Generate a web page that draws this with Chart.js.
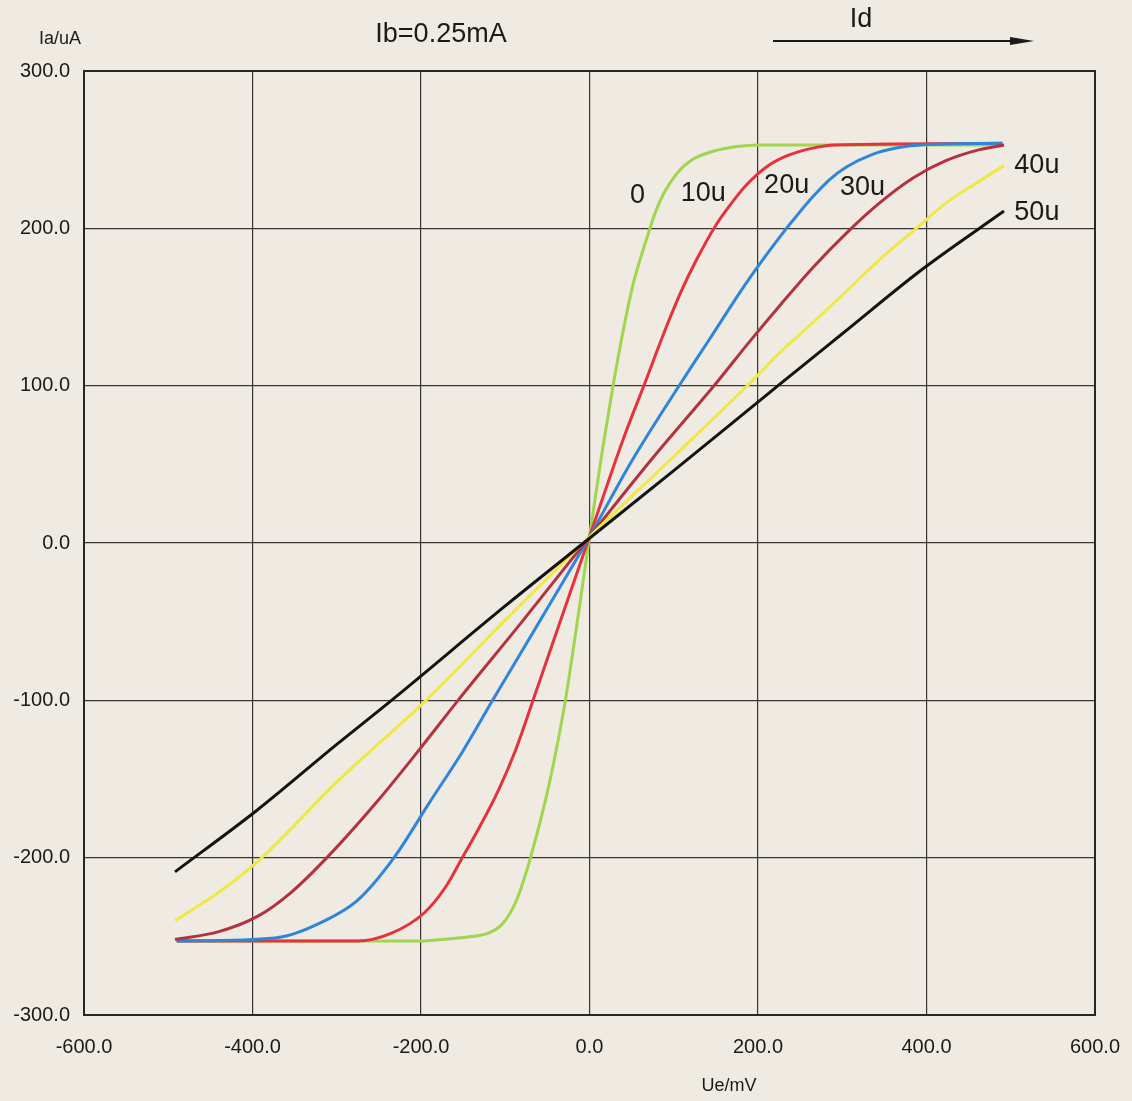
<!DOCTYPE html>
<html>
<head>
<meta charset="utf-8">
<script src="https://cdn.jsdelivr.net/npm/chart.js@4/dist/chart.umd.min.js"></script>
<style>
html,body{margin:0;padding:0;background:#efebe2;}
canvas{display:block;}
</style>
</head>
<body>
<canvas id="c" width="1132" height="1101"></canvas>
<script>
// Ue in mV (x) and Ia in uA (y) for each Id curve
const xTicks = [-600, -400, -200, 0, 200, 400, 600];
const yTicks = [-300, -200, -100, 0, 100, 200, 300];

const id0_x = [-490,-200,-176,-137,-120,-105,-95,-85,-75,-70,-52,-40,-28,-15,0,15,28,40,52,64,70,78,88,104,123,147,175,200,490];
const id0_y = [-253,-253,-252,-250,-248,-243,-236,-225,-209,-200,-163,-133,-98,-52,4,58,100,135,165,187,197,210,222,235,244,249,252,253,253];

const id10_x = [-490,-275,-235,-196,-170,-151,-130,-108,-88,-67,-40,0,40,66,88,108,127,150,170,187,210,234,265,290,490];
const id10_y = [-253,-253,-248,-235,-218,-200,-180,-157,-132,-100,-58,4,66,102,133,159,180,202,217,228,239,246,251,253,254];

const id20_x = [-490,-373,-314,-275,-232,-190,-150,-115,-55,0,50,110,143,187,228,246,265,285,305,336,364,392,490];
const id20_y = [-253,-251,-240,-227,-200,-165,-132,-100,-46,4,52,103,130,166,196,208,220,231,239,247,251,253,254];

const id30_x = [-492,-440,-393,-354,-310,-250,-200,-156,-80,0,75,151,190,226,265,305,344,384,423,463,492];
const id30_y = [-252,-247,-237,-222,-199,-163,-130,-100,-50,4,54,102,128,151,175,197,216,232,243,250,253];

const id40_x = [-492,-440,-393,-300,-194,-100,0,100,193,226,265,305,344,388,423,463,492];
const id40_y = [-240,-222,-202,-152,-100,-49,4,55,103,121,140,160,180,200,216,230,240];

const id50_x = [-492,-395,-300,-235,-100,0,100,226,300,395,492];
const id50_y = [-209,-170,-128,-100,-40,3,46,101,133,174,211];

const curveNames = ['0','10u','20u','30u','40u','50u'];
const curveColors = ['#9fd64e','#e5323c','#2f86d8','#b3323f','#f0e845','#141414'];
// label anchor positions (data coordinates)
const labelX = [57,135,234,324,531,531];
const labelY = [221,222,227,226,240,210];

const xs = [id0_x,id10_x,id20_x,id30_x,id40_x,id50_x];
const ys = [id0_y,id10_y,id20_y,id30_y,id40_y,id50_y];

const datasets = xs.map((xa,i)=>({
  label: curveNames[i],
  data: xa.map((x,j)=>({x:x, y:ys[i][j]})),
  borderColor: curveColors[i],
  backgroundColor: curveColors[i],
  borderWidth: 3,
  pointRadius: 0,
  showLine: true,
  fill: false,
  cubicInterpolationMode: 'monotone',
  order: 6 - i
}));

const FONT = '"Liberation Sans", Arial, Helvetica, sans-serif';

const bgPlugin = {
  id: 'bg',
  beforeDraw(chart){
    const c = chart.ctx;
    c.save();
    c.fillStyle = '#efebe2';
    c.fillRect(0,0,chart.width,chart.height);
    c.restore();
  },
  afterDraw(chart){
    const c = chart.ctx;
    const a = chart.chartArea;
    const sx = chart.scales.x, sy = chart.scales.y;
    c.save();
    // border
    c.strokeStyle = '#2a2626';
    c.lineWidth = 2;
    c.strokeRect(a.left, a.top, a.right - a.left, a.bottom - a.top);
    // curve labels
    c.fillStyle = '#1a1a1a';
    c.font = '27px ' + FONT;
    c.textAlign = 'center';
    c.textBaseline = 'middle';
    curveNames.forEach((n,i)=>{
      c.fillText(n, sx.getPixelForValue(labelX[i]), sy.getPixelForValue(labelY[i]));
    });
    // header texts
    c.font = '18px ' + FONT;
    c.fillText('Ia/uA', 60, 39);
    c.font = '27px ' + FONT;
    c.fillText('Ib=0.25mA', 441, 35);
    c.fillText('Id', 861, 20);
    // arrow
    c.strokeStyle = '#1a1a1a';
    c.lineWidth = 2;
    c.beginPath();
    c.moveTo(773, 41);
    c.lineTo(1016, 41);
    c.stroke();
    c.beginPath();
    c.moveTo(1034, 41);
    c.lineTo(1010, 37);
    c.lineTo(1010, 45);
    c.closePath();
    c.fill();
    // x axis title
    c.font = '18px ' + FONT;
    c.fillText('Ue/mV', 729, 1086);
    c.restore();
  }
};

new Chart(document.getElementById('c'), {
  type: 'scatter',
  data: { datasets },
  options: {
    responsive: false,
    animation: false,
    devicePixelRatio: 1,
    layout: { padding: { top: 71, right: 37, left: 0, bottom: 0 } },
    plugins: { legend: { display: false }, tooltip: { enabled: false }, title: { display: false } },
    scales: {
      x: {
        type: 'linear',
        min: -600, max: 600,
        afterFit(s){ s.height = 86; s.paddingLeft = 0; s.paddingRight = 0; },
        afterBuildTicks(s){ s.ticks = xTicks.map(v=>({value:v})); },
        grid: { color: '#3a3434', lineWidth: 1.2, drawTicks: false },
        border: { display: false },
        ticks: {
          padding: 20,
          color: '#1a1a1a',
          font: { family: FONT, size: 20 },
          maxRotation: 0,
          callback: v => v.toFixed(1)
        }
      },
      y: {
        type: 'linear',
        min: -300, max: 300,
        afterFit(s){ s.width = 84; s.paddingTop = 0; s.paddingBottom = 0; },
        afterBuildTicks(s){ s.ticks = yTicks.map(v=>({value:v})); },
        grid: { color: '#3a3434', lineWidth: 1.2, drawTicks: false },
        border: { display: false },
        ticks: {
          padding: 14,
          color: '#1a1a1a',
          font: { family: FONT, size: 20 },
          callback: v => v.toFixed(1)
        }
      }
    }
  },
  plugins: [bgPlugin]
});
</script>
</body>
</html>
